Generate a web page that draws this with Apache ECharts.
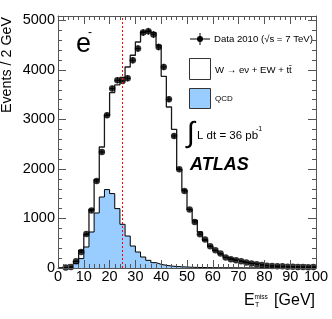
<!DOCTYPE html>
<html><head><meta charset="utf-8">
<script src="https://cdn.jsdelivr.net/npm/echarts@6/dist/echarts.min.js"></script>
<style>html,body{margin:0;padding:0;background:#fff}#c{width:332px;height:319px}</style>
</head><body><div id="c"></div>
<script>
// bin lower edges (GeV), 2 GeV bins
const binLow = [0,2,4,6,8,10,12,14,16,18,20,22,24,26,28,30,32,34,36,38,40,42,44,46,48,50,52,54,56,58,60,62,64,66,68,70,72,74,76,78,80,82,84,86,88,90,92,94,96,98];
const binHigh = 100;
// Data 2010
const dataVals = [0,10,20,135,323,687,1160,1757,2343,3085,3624,3792,3778,3832,4195,4432,4755,4781,4715,4464,4060,3408,2667,1994,1556,1180,929,681,574,438,358,291,210,176,155,135,109,89,75,61,47,40,34,34,27,27,20,20,14,20];
// W->enu + EW + ttbar + QCD (stacked total)
const mcTotal = [0,5,25,135,357,674,1186,1786,2444,3085,3543,3700,3850,4060,4297,4565,4767,4801,4755,4499,3872,3252,2802,1994,1570,1186,963,727,560,440,350,285,215,178,150,130,105,88,74,60,48,40,34,31,27,24,20,18,16,14];
// QCD
const qcd = [0,0,15,90,190,424,727,1111,1434,1584,1503,1200,883,646,444,323,222,155,108,74,54,40,30,25,20,15,12,10,8,7,6,5,5,4,4,3,3,3,2,2,2,2,1,1,1,1,1,1,1,1];
const cutValue = 25;
const xTickLabels = [0,10,20,30,40,50,60,70,80,90,100];
const yTickLabels = [0,1000,2000,3000,4000,5000];

const FONT = "'Liberation Sans', Arial, sans-serif";
function stepData(vals){
  const d = binLow.map((x,i)=>[x, vals[i]]);
  d.push([binHigh, vals[vals.length-1]]);
  return d;
}
const pts = binLow.map((x,i)=>[x+1, dataVals[i]]).filter(p=>p[1]>0);

const frame = '#555';
function xAx(pos, labels){
  return {type:'value', min:0, max:100, interval:10, position:pos, z:10,
    axisLine:{show:true, onZero:false, lineStyle:{color:frame, width:1}},
    axisTick:{show:true, inside:true, length:8, lineStyle:{color:frame}},
    minorTick:{show:true, splitNumber:5, length:4, lineStyle:{color:frame}},
    splitLine:{show:false}, minorSplitLine:{show:false},
    axisLabel:{show:labels, margin:1, fontSize:14.5, color:'#000', fontFamily:FONT,
      formatter:v=>xTickLabels.includes(v)?String(v):''}};
}
function yAx(pos, interval, len, labels, line){
  return {type:'value', min:0, max:5090, interval:interval, position:pos, z:10,
    axisLine:{show:line, onZero:false, lineStyle:{color:frame, width:1}},
    axisTick:{show:true, inside:true, length:len, lineStyle:{color:frame}},
    splitLine:{show:false},
    axisLabel:{show:labels, margin:3, fontSize:14.5, color:'#000', fontFamily:FONT,
      formatter:v=>yTickLabels.includes(v)?String(v):''}};
}

const chart = echarts.init(document.getElementById('c'), null, {renderer:'canvas'});
chart.setOption({
  animation:false,
  backgroundColor:'#fff',
  grid:{left:58, right:16, top:16, bottom:51, show:false},
  xAxis:[xAx('bottom', true), xAx('top', false)],
  yAxis:[yAx('left',1000,8,true,true), yAx('left',200,4,false,false), yAx('right',1000,8,false,true), yAx('right',200,4,false,false)],
  series:[
    {type:'line', data:stepData(mcTotal), step:'end', symbol:'none', z:2,
     lineStyle:{color:'#1a1a1a', width:1.3}, areaStyle:{color:'#fff', opacity:1}},
    {type:'line', data:stepData(qcd), step:'end', symbol:'none', z:3,
     lineStyle:{color:'#000', width:1}, areaStyle:{color:'#99ccff', opacity:1}},
    {type:'custom', z:4, data:pts, renderItem:function(params, api){
      const x = api.value(0), y = api.value(1), e = Math.sqrt(y);
      const l = api.coord([x-1,y]), r = api.coord([x+1,y]);
      const t = api.coord([x,y+e]), b = api.coord([x,y-e]);
      return {type:'group', children:[
        {type:'line', shape:{x1:l[0],y1:l[1],x2:r[0],y2:r[1]}, style:{stroke:'#000', lineWidth:1}},
        {type:'line', shape:{x1:t[0],y1:t[1],x2:b[0],y2:b[1]}, style:{stroke:'#000', lineWidth:1}}
      ]};
    }},
    {type:'scatter', data:pts, symbol:'circle', symbolSize:6.5, z:5,
     itemStyle:{color:'#000'},
     markLine:{silent:true, symbol:['none','none'], label:{show:false}, z:6,
       lineStyle:{color:'#ff0000', type:[2,2], width:1}, data:[{xAxis:cutValue}]}}
  ],
  graphic:[
    {type:'text', x:7, y:65, rotation:Math.PI/2, style:{text:'Events / 2 GeV', fontSize:14.3, fontFamily:FONT, fill:'#000', align:'center', verticalAlign:'middle'}},
    {type:'text', x:244, y:301, style:{text:'E', fontSize:16, fontFamily:FONT, fill:'#000', align:'left', verticalAlign:'middle'}},
    {type:'text', x:254.5, y:297, style:{text:'miss', fontSize:6.5, fontFamily:FONT, fill:'#000', align:'left', verticalAlign:'middle'}},
    {type:'text', x:255, y:305.5, style:{text:'T', fontSize:7, fontFamily:FONT, fill:'#000', align:'left', verticalAlign:'middle'}},
    {type:'text', x:315, y:301, style:{text:'[GeV]', fontSize:16, fontFamily:FONT, fill:'#000', align:'right', verticalAlign:'middle'}},
    {type:'text', x:76, y:44.4, style:{text:'e', fontSize:27, fontFamily:FONT, fill:'#000', align:'left', verticalAlign:'middle'}},
    {type:'text', x:90, y:33, style:{text:'-', fontSize:12, fontFamily:FONT, fill:'#000', align:'center', verticalAlign:'middle'}},
    // legend
    {type:'line', shape:{x1:190,y1:39,x2:210,y2:39}, style:{stroke:'#000', lineWidth:1}},
    {type:'line', shape:{x1:200,y1:33,x2:200,y2:45}, style:{stroke:'#000', lineWidth:1}},
    {type:'circle', shape:{cx:200,cy:39,r:3}, style:{fill:'#000'}},
    {type:'text', x:214, y:39, style:{text:'Data 2010 (\u221As = 7 TeV)', fontSize:9.6, fontFamily:FONT, fill:'#000', align:'left', verticalAlign:'middle'}},
    {type:'rect', shape:{x:189.5,y:58.5,width:21,height:21}, style:{fill:'#fff', stroke:'#333', lineWidth:1}},
    {type:'text', x:215, y:70, style:{text:'W \u2192 e\u03BD + EW + tt\u0304', fontSize:9.6, fontFamily:FONT, fill:'#000', align:'left', verticalAlign:'middle'}},
    {type:'rect', shape:{x:189.5,y:88.5,width:21,height:20}, style:{fill:'#99ccff', stroke:'#333', lineWidth:1}},
    {type:'text', x:215, y:99, style:{text:'QCD', fontSize:8, fontFamily:FONT, fill:'#000', align:'left', verticalAlign:'middle'}},
    {type:'text', x:187, y:134, style:{text:'\u222B', fontSize:29, fontFamily:FONT, fill:'#000', align:'left', verticalAlign:'middle'}},
    {type:'text', x:197, y:136, style:{text:'L dt = 36 pb', fontSize:11.5, fontFamily:FONT, fill:'#000', align:'left', verticalAlign:'middle'}},
    {type:'text', x:256, y:129, style:{text:'-1', fontSize:7, fontFamily:FONT, fill:'#000', align:'left', verticalAlign:'middle'}},
    {type:'text', x:190, y:165, style:{text:'ATLAS', fontSize:18, fontWeight:'bold', fontStyle:'italic', fontFamily:FONT, fill:'#000', align:'left', verticalAlign:'middle'}}
  ]
});
</script></body></html>
